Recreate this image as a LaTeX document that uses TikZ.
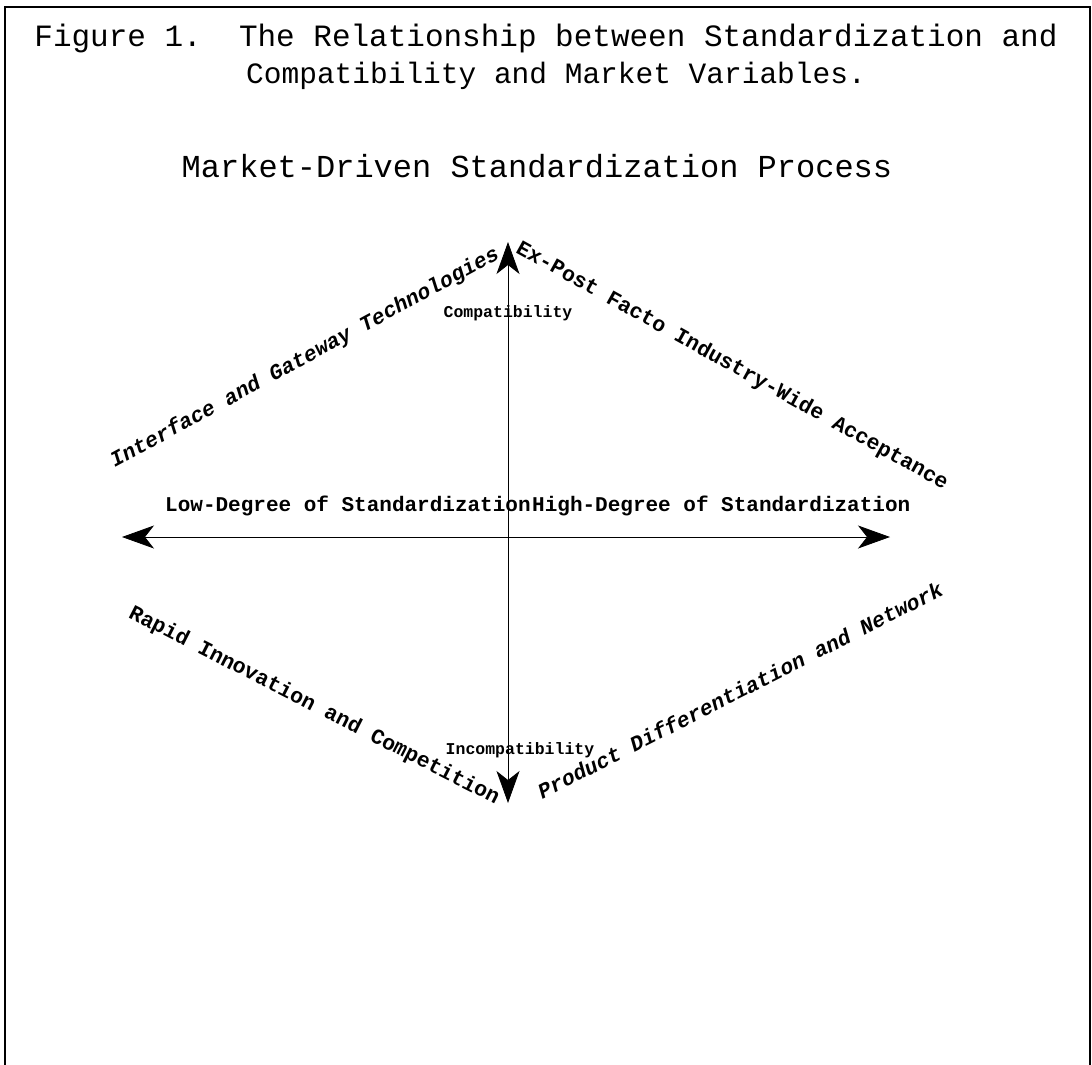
\documentclass[tikz,border=0pt]{standalone}
\usepackage{fontspec}
\setmainfont{Liberation Mono}
\usetikzlibrary{arrows.meta}
\begin{document}
\begin{tikzpicture}[x=1pt,y=-1pt,
  title/.style={inner sep=0pt},
  axislab/.style={font=\bfseries\fontsize{21}{24}\selectfont, inner sep=0pt},
  small/.style={font=\bfseries\fontsize{16.5}{19}\selectfont, inner sep=0pt},
  diag/.style={font=\bfseries\fontsize{21.5}{24}\selectfont, inner sep=0pt},
  diagit/.style={font=\bfseries\itshape\fontsize{21.5}{24}\selectfont, inner sep=0pt},
  axis/.style={line width=0.8pt, {Stealth[length=32pt,width=23pt,inset=9pt]}-{Stealth[length=32pt,width=23pt,inset=9pt]}},
  frame/.style={line width=2.5pt}
]
\useasboundingbox (0,0) rectangle (1092,1065);
\fill[white] (0,0) rectangle (1092,1065);
% frame (open at bottom)
\coordinate (fbl) at (5,1065);
\coordinate (ftl) at (5,7);
\coordinate (ftr) at (1090,7);
\coordinate (fbr) at (1090,1065);
\draw[frame] (fbl) -- (ftl) -- (ftr) -- (fbr);
% titles
\node[title, font=\fontsize{31}{34}\selectfont] (t1) at (546,38) {Figure 1.\ \ The Relationship between Standardization and};
\node[title, font=\fontsize{29.5}{34}\selectfont] (t2) at (556,76) {Compatibility and Market Variables.};
\node[title, font=\fontsize{32}{36}\selectfont] (t3) at (537,166) {Market-Driven Standardization Process};
% axes
\coordinate (vtop) at (508,242);
\coordinate (vbot) at (508,803);
\coordinate (hleft) at (122,537);
\coordinate (hright) at (890,537);
\draw[axis] (vbot) -- (vtop);
\draw[axis] (hleft) -- (hright);
% axis labels
\node[small] (comp) at (508,313) {Compatibility};
\node[small] (incomp) at (520,750) {Incompatibility};
\node[axislab, anchor=west] (low) at (165,506) {Low-Degree of Standardization};
\node[axislab, anchor=west] (high) at (532,506) {High-Degree of Standardization};
% diagonal labels
\node[diagit, rotate=28.5] (iface) at (305,358) {Interface and Gateway Technologies};
\node[diag, rotate=-29] (expost) at (732,366) {Ex-Post Facto Industry-Wide Acceptance};
\node[diag, rotate=-27] (rapid) at (314,706) {Rapid Innovation and Competition};
\node[diagit, rotate=27] (prod) at (740,690) {Product Differentiation and Network};
\end{tikzpicture}
\end{document}
